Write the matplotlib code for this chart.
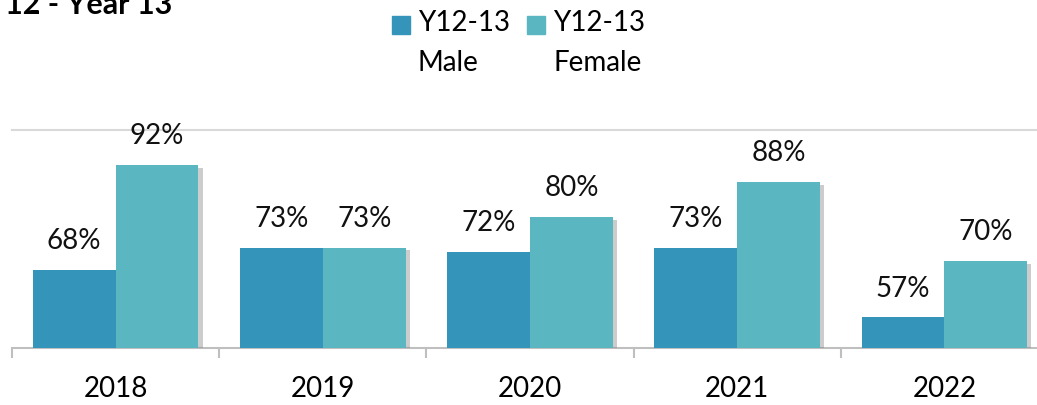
import numpy as np
import matplotlib.pyplot as plt
import matplotlib.patheffects as pe
from matplotlib.patches import Rectangle

plt.rcParams['font.family'] = ['Lato', 'DejaVu Sans']

years = ['2018', '2019', '2020', '2021', '2022']
male = [68, 73, 72, 73, 57]
female = [92, 73, 80, 88, 70]
series_names = ['Y12-13\nMale', 'Y12-13\nFemale']
colors = ['#3594b9', '#5ab6c0']
title = '12 - Year 13'

W, H = 1037, 405
fig = plt.figure(figsize=(W / 100, H / 100), dpi=100)

# axes run off the right edge like the cropped original
left, right, bottom, top = 12, 1048, 348, 130
ax = fig.add_axes([left / W, (H - bottom) / H, (right - left) / W, (bottom - top) / H])

x = np.arange(len(years))
bw = 0.4
shadow = [pe.SimplePatchShadow(offset=(3, -2), shadow_rgbFace='#808080', alpha=0.4), pe.Normal()]
b1 = ax.bar(x - bw / 2, male, bw, color=colors[0], zorder=3, path_effects=shadow)
b2 = ax.bar(x + bw / 2, female, bw, color=colors[1], zorder=3, path_effects=shadow)

ax.set_ylim(50, 100)
ax.set_xlim(-0.5, len(years) - 0.5)

for bars, vals in [(b1, male), (b2, female)]:
    for rect, v in zip(bars, vals):
        ax.annotate(f'{v}%', (rect.get_x() + rect.get_width() / 2, v),
                    xytext=(0, 15), textcoords='offset points',
                    ha='center', va='baseline', fontsize=20, color='#111111', zorder=5)

# gridline at 100% only
ax.axhline(100, color='#d9d9d9', lw=1.5, zorder=1, clip_on=False)

for s in ['top', 'right', 'left']:
    ax.spines[s].set_visible(False)
ax.spines['bottom'].set_color('#bfbfbf')
ax.spines['bottom'].set_linewidth(1.5)
ax.set_yticks([])
ax.set_xticks(x)
ax.set_xticklabels(years, fontsize=20)
ax.tick_params(axis='x', length=0, pad=20)
ax.set_xticks(np.arange(len(years) + 1) - 0.5, minor=True)
ax.tick_params(axis='x', which='minor', length=7.5, width=1.5, color='#bfbfbf')

# title, cropped at top-left like the original
fig.text(5 / W, 1 - 14 / H, title, fontsize=22, fontweight='bold', va='baseline', ha='left')

# legend, drawn by hand so the swatch sits on the first line
leg_x = [392, 527]
for xs, name, c in zip(leg_x, series_names, colors):
    fig.patches.append(Rectangle((xs / W, 1 - 34 / H), 18 / W, 18 / H,
                                 transform=fig.transFigure, color=c))
    fig.text((xs + 26) / W, 1 - 10 / H, name, fontsize=20, va='top', ha='left',
             linespacing=1.65)

fig.savefig('out.png', dpi=100)
